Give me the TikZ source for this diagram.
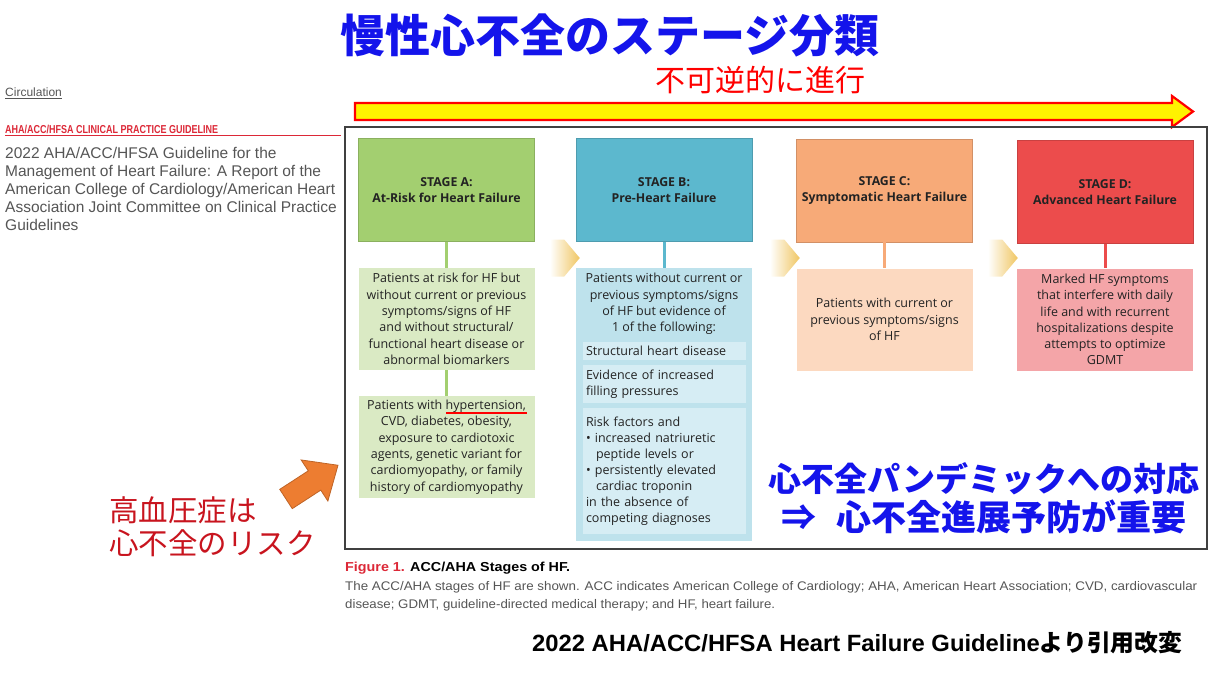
\documentclass[tikz,border=0pt]{standalone}
\usepackage{fontspec}
\usepackage{graphicx}
\setmainfont{Liberation Sans}
\newfontfamily\boxfont{Open Sans}
\newfontfamily\jpfont{Noto Sans CJK JP}
\usepackage{tikz}
\usetikzlibrary{shapes,arrows,positioning,calc}

\definecolor{stageA}{RGB}{163,207,112}
\definecolor{stageAlt}{RGB}{218,234,196}
\definecolor{stageB}{RGB}{92,184,206}
\definecolor{stageBlt}{RGB}{190,226,236}
\definecolor{stageBsub}{RGB}{214,237,244}
\definecolor{stageC}{RGB}{247,170,120}
\definecolor{stageClt}{RGB}{252,217,192}
\definecolor{stageD}{RGB}{236,76,76}
\definecolor{stageDlt}{RGB}{244,165,168}
\definecolor{chevgold}{RGB}{240,198,98}
\definecolor{titleblue}{RGB}{20,20,235}
\definecolor{riskred}{RGB}{200,20,30}
\definecolor{guidered}{RGB}{220,40,55}
\definecolor{capgray}{RGB}{85,85,85}
\definecolor{hfarrow}{RGB}{237,125,49}
\definecolor{boxtext}{RGB}{35,35,35}

\tikzset{
    stagehead/.style={minimum width=176, minimum height=103, inner sep=0, align=center,
        text=boxtext, font=\boxfont\fontsize{12.3}{16}\selectfont\bfseries},
    stagebox/.style={minimum width=176, minimum height=102, inner sep=0, align=center,
        text=boxtext, font=\boxfont\fontsize{12.5}{16.3}\selectfont},
    subbox/.style={fill=stageBsub, text width=157, inner xsep=3, inner ysep=2, align=left,
        text=boxtext, font=\boxfont\fontsize{12.5}{16}\selectfont},
    chevron/.style={signal, signal to=east, signal pointer angle=100, minimum width=30,
        minimum height=37, inner sep=0, left color=white, right color=chevgold},
    link/.style={line width=3}
}

\begin{document}
\begin{tikzpicture}[x=1pt, y=-1pt]
\useasboundingbox (0,0) rectangle (1226,678);

% Title and progression arrow
\node[font=\jpfont\bfseries\fontsize{45}{45}\selectfont, text=titleblue] (title) at (610,35) {慢性心不全のステージ分類};
\node[font=\jpfont\fontsize{30}{30}\selectfont, text=red] (irrev) at (760,80) {不可逆的に進行};
\draw[line width=2.2, red, fill=yellow, line join=miter]
    (355,103) -- (1172,103) -- (1172,96) -- (1193,111.5) -- (1172,127) -- (1172,120) -- (355,120) -- cycle;

% Journal header on the left
\node[anchor=west, inner sep=0, text=capgray, font=\fontsize{12}{14}\selectfont] (circ) at (5,93) {\underline{Circulation}};
\node[anchor=west, inner sep=0, text=guidered, font=\bfseries\fontsize{11.5}{13}\selectfont] (guide) at (5,129.5)
    {\resizebox{213pt}{\height}{AHA/ACC/HFSA CLINICAL PRACTICE GUIDELINE}};
\draw[guidered, line width=0.8] (5,135) -- (341,135);
\node[anchor=north west, inner sep=0, align=left, text=capgray, font=\fontsize{15.5}{18}\selectfont] (gtitle) at (5,147)
    {2022 AHA/ACC/HFSA Guideline for the\\Management of Heart Failure: A Report of the\\American College of Cardiology/American Heart\\Association Joint Committee on Clinical Practice\\Guidelines};

% Figure frame
\draw[line width=1.5, black!75] (345,127) rectangle (1207,549);

% Stage headers
\node[stagehead, fill=stageA, draw=stageA!85!black] (hA) at (446.5,190) {STAGE A:\\At-Risk for Heart Failure};
\node[stagehead, fill=stageB, draw=stageB!85!black] (hB) at (664,190) {STAGE B:\\Pre-Heart Failure};
\node[stagehead, fill=stageC, draw=stageC!85!black] (hC) at (884.5,190.5) {STAGE C:\\Symptomatic Heart Failure};
\node[stagehead, fill=stageD, draw=stageD!85!black] (hD) at (1105,192) {STAGE D:\\Advanced Heart Failure};

% Stage details
\node[stagebox, fill=stageAlt] (dA1) at (446.5,319) {Patients at risk for HF but\\without current or previous\\symptoms/signs of HF\\and without structural/\\functional heart disease or\\abnormal biomarkers};
\node[stagebox, fill=stageAlt] (dA2) at (446.5,447) {Patients with hypertension,\\CVD, diabetes, obesity,\\exposure to cardiotoxic\\agents, genetic variant for\\cardiomyopathy, or family\\history of cardiomyopathy};

\node[stagebox, fill=stageBlt, minimum height=273] (dB) at (664,404.5) {};
\node[stagebox, minimum height=0] (dBtxt) at (664,304) {Patients without current or\\previous symptoms/signs\\of HF but evidence of\\1 of the following:};
\node[subbox, minimum height=18] (dB1) at (664.5,351) {Structural heart disease};
\node[subbox, minimum height=38] (dB2) at (664.5,384) {Evidence of increased\\filling pressures};
\node[subbox, minimum height=126] (dB3) at (664.5,471) {Risk factors and\\\textbullet\ increased natriuretic\\\hspace*{0.8em}peptide levels or\\\textbullet\ persistently elevated\\\hspace*{0.8em}cardiac troponin\\in the absence of\\competing diagnoses};

\node[stagebox, fill=stageClt] (dC) at (884.5,319.5) {Patients with current or\\previous symptoms/signs\\of HF};
\node[stagebox, fill=stageDlt] (dD) at (1105,319.5) {Marked HF symptoms\\that interfere with daily\\life and with recurrent\\hospitalizations despite\\attempts to optimize\\GDMT};

% Connectors
\draw[link, stageA] (hA) -- (dA1);
\draw[link, stageA] (dA1) -- (dA2);
\draw[link, stageB] (hB) -- (dB);
\draw[link, stageC] (hC) -- (dC);
\draw[link, stageD] (hD) -- (dD);

% Chevrons between stages
\foreach \cx/\nm in {557/chAB, 777/chBC, 995/chCD} {
    \node[chevron] (\nm) at (\cx,258) {};
}

% Hypertension mark and callout
\draw[red, line width=2.2] (446,413) -- (527,413);
\draw[fill=hfarrow, draw=hfarrow!80!black, line width=0.8, shift={(286,499)}, rotate=33]
    (0,-11.5) -- (34,-11.5) -- (34,-24.5) -- (62,0) -- (34,24.5) -- (34,11.5) -- (0,11.5) -- cycle;
\node[anchor=west, align=left, inner sep=0, font=\jpfont\fontsize{29.5}{33}\selectfont, text=riskred] (risk) at (109,527) {高血圧症は\\心不全のリスク};

\node[align=center, font=\jpfont\bfseries\fontsize{33}{39}\selectfont, text=titleblue] (pandemic) at (984,498)
    {心不全パンデミックへの対応\\{\fontsize{35}{39}\selectfont ⇒\hspace{20pt}心不全進展予防が重要}};

% Caption
\node[anchor=west, inner sep=0, font=\bfseries\fontsize{13}{15}\selectfont] (fig) at (345,568)
    {\resizebox{225pt}{\height}{\textcolor{guidered}{Figure 1.} ACC/AHA Stages of HF.}};
\node[anchor=west, inner sep=0, text=capgray, font=\fontsize{12.5}{15}\selectfont] (cap1) at (345,587)
    {\resizebox{852pt}{\height}{The ACC/AHA stages of HF are shown. ACC indicates American College of Cardiology; AHA, American Heart Association; CVD, cardiovascular}};
\node[anchor=west, inner sep=0, text=capgray, font=\fontsize{12.5}{15}\selectfont] (cap2) at (345,605)
    {\resizebox{430pt}{\height}{disease; GDMT, guideline-directed medical therapy; and HF, heart failure.}};

% Source
\node[anchor=west, inner sep=0, font=\bfseries\fontsize{23.5}{26}\selectfont] (src) at (532,643)
    {\resizebox{650pt}{\height}{2022 AHA/ACC/HFSA Heart Failure Guideline{\jpfont\bfseries より引用改変}}};

\end{tikzpicture}
\end{document}
